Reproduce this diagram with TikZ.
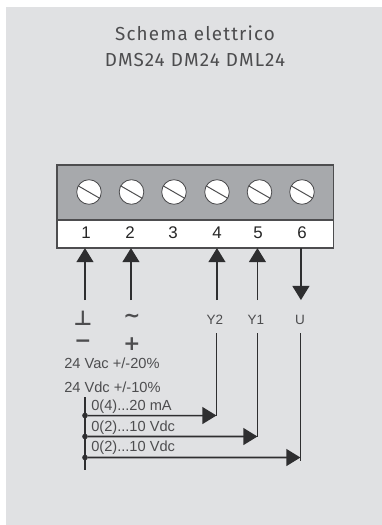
\documentclass[tikz,border=0pt]{standalone}
\usepackage{fontspec}
\setmainfont{Liberation Sans}
\newfontfamily\titlefont[LetterSpace=6]{Fira Sans}
\newfontfamily\polefont{DejaVu Sans}
\usepackage{tikz}
\usetikzlibrary{arrows.meta}

\tikzset{
  signal/.style={line width=1.1pt, draw=wirecolor, -{Triangle[length=10pt, width=12pt]}},
  wire/.style={line width=1.1pt, draw=wirecolor},
  screw/.style={circle, draw=edgecolor, fill=white, line width=0.6pt, minimum size=17.5pt, inner sep=0pt},
  busdot/.style={circle, fill=wirecolor, minimum size=4pt, inner sep=0pt},
  pinlabel/.style={font=\fontsize{12}{13}\selectfont, text=black!85},
  smalllabel/.style={font=\fontsize{9.6}{11}\selectfont, text=edgecolor},
  rangelabel/.style={font=\fontsize{10.4}{12}\selectfont, text=edgecolor, anchor=west, inner sep=0pt},
  polelabel/.style={font=\polefont\bfseries\fontsize{14.5}{15}\selectfont, text=edgecolor, inner sep=0pt},
  titlelabel/.style={font=\titlefont\fontsize{13.4}{15}\selectfont, text=edgecolor}
}
\definecolor{panelcolor}{HTML}{E0E1E3}
\definecolor{blockcolor}{HTML}{A7A9AC}
\definecolor{edgecolor}{HTML}{4D4D4F}
\definecolor{wirecolor}{HTML}{2E2E30}

\begin{document}
\begin{tikzpicture}[scale=0.025]
\useasboundingbox (0, 0) rectangle (382, 525);
\fill[panelcolor] (6, 0) rectangle (382, 518);

\node [titlelabel] (title1) at (195, 492) {Schema elettrico};
\node [titlelabel] (title2) at (195, 465) {DMS24 DM24 DML24};

\begin{scope}[shift={(0, 0)}] % TERMINAL BLOCK
\fill[blockcolor] (57, 305) rectangle (333.5, 360);
\fill[white] (57, 277) rectangle (333.5, 305);
\draw[edgecolor, line width=0.8pt] (57, 277) rectangle (333.5, 360);
\draw[edgecolor, line width=0.8pt] (57, 305) -- (333.5, 305);

\node [screw] (s1) at (89, 333) {};
\node [screw] (s2) at (131.5, 333) {};
\node [screw] (s3) at (174, 333) {};
\node [screw] (s4) at (217, 333) {};
\node [screw] (s5) at (259.5, 333) {};
\node [screw] (s6) at (302, 333) {};
\draw[edgecolor, line width=0.7pt] (s1.150) -- (s1.-30);
\draw[edgecolor, line width=0.7pt] (s2.150) -- (s2.-30);
\draw[edgecolor, line width=0.7pt] (s3.150) -- (s3.-30);
\draw[edgecolor, line width=0.7pt] (s4.150) -- (s4.-30);
\draw[edgecolor, line width=0.7pt] (s5.150) -- (s5.-30);
\draw[edgecolor, line width=0.7pt] (s6.150) -- (s6.-30);

\node [pinlabel] (n1) at (86, 292) {1};
\node [pinlabel] (n2) at (130, 292) {2};
\node [pinlabel] (n3) at (173, 292) {3};
\node [pinlabel] (n4) at (217, 292) {4};
\node [pinlabel] (n5) at (258, 292) {5};
\node [pinlabel] (n6) at (302, 292) {6};
\end{scope}

\begin{scope}[shift={(0, 0)}] % ARROWS ON THE TERMINALS
\coordinate (t1) at (85, 277);
\coordinate (t2) at (131, 277);
\coordinate (t4) at (217, 277);
\coordinate (t5) at (257.5, 277);
\coordinate (t6) at (301, 277);
\coordinate (f1) at (85, 225);
\coordinate (f2) at (131, 225);
\coordinate (f4) at (217, 225);
\coordinate (f5) at (257.5, 225);
\coordinate (f6) at (301, 225);
\draw[signal] (f1) -- (t1);
\draw[signal] (f2) -- (t2);
\draw[signal] (f4) -- (t4);
\draw[signal] (f5) -- (t5);
\draw[signal] (t6) -- (f6);
\end{scope}

\begin{scope}[shift={(0, 0)}] % LABELS
\node [polelabel] (ground) at (83, 207) {⊥};
\node [polelabel] (tilde) at (132, 207) {∼};
\node [polelabel] (minus) at (83, 181) {−};
\node [polelabel] (plus) at (132, 181) {+};
\node [smalllabel] (y2) at (215, 205) {Y2};
\node [smalllabel] (y1) at (256, 205) {Y1};
\node [smalllabel] (u) at (300, 205) {U};
\node [rangelabel] (vac) at (64, 162) {24 Vac +/-20\%};
\node [rangelabel] (vdc) at (64, 138) {24 Vdc +/-10\%};
\node [rangelabel] (r1) at (91, 118) {0(4)...20 mA};
\node [rangelabel] (r2) at (91, 97.5) {0(2)...10 Vdc};
\node [rangelabel] (r3) at (91, 77) {0(2)...10 Vdc};
\end{scope}

\begin{scope}[shift={(0, 0)}] % OUTPUT WIRING
\coordinate (bustop) at (85, 128);
\coordinate (busend) at (85, 55);
\draw[wire] (bustop) -- (busend);

\node [busdot] (d1) at (85, 109.5) {};
\node [busdot] (d2) at (85, 88.5) {};
\node [busdot] (d3) at (85, 67.5) {};

\coordinate (e1) at (216.5, 109.5);
\coordinate (e2) at (257.5, 88.5);
\coordinate (e3) at (300.5, 67.5);
\coordinate (v1) at (216.5, 192);
\coordinate (v2) at (257.5, 192);
\coordinate (v3) at (300.5, 192);
\coordinate (w3) at (300.5, 64);

\draw[wire] (v1) -- (e1);
\draw[wire] (v2) -- (e2);
\draw[wire] (v3) -- (w3);
\draw[signal] (d1) -- (e1);
\draw[signal] (d2) -- (e2);
\draw[signal] (d3) -- (e3);
\end{scope}
\end{tikzpicture}
\end{document}
